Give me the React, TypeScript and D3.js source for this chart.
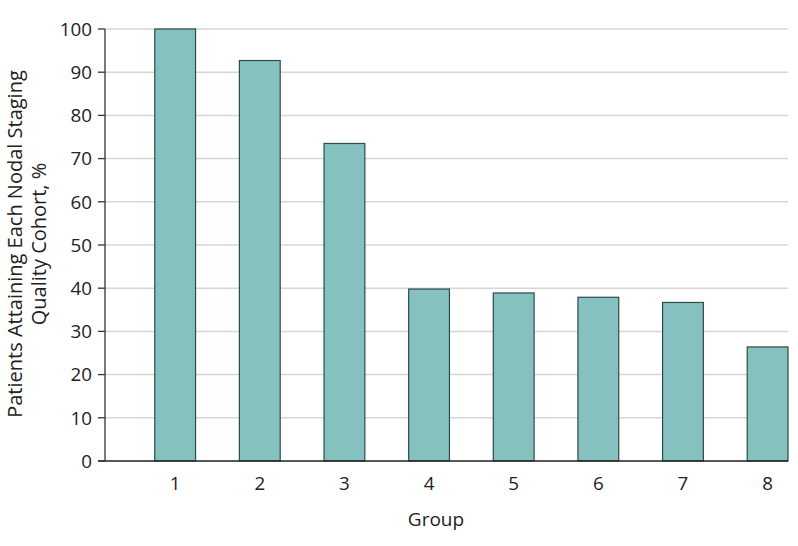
import React from "react";
import * as d3 from "d3";

const groups = ["1", "2", "3", "4", "5", "6", "7", "8"];
const values = [100, 92.7, 73.5, 39.8, 38.9, 37.9, 36.7, 26.4];
const yTicks = [0, 10, 20, 30, 40, 50, 60, 70, 80, 90, 100];
const yTitle = ["Patients Attaining Each Nodal Staging", "Quality Cohort, %"];
const xTitle = "Group";

const W = 798;
const H = 546;
const FONT = "'Open Sans', 'DejaVu Sans', sans-serif";

export default function App() {
  const x = d3
    .scaleBand<string>()
    .domain(groups)
    .range([105, 788])
    .paddingInner(0.518)
    .paddingOuter(0.294)
    .align(1);
  const y = d3.scaleLinear().domain([0, 100]).range([461, 29]);

  return (
    <svg
      width={W}
      height={H}
      style={{ position: "absolute", left: 0, top: 0, background: "#fff" }}
      fontFamily={FONT}
    >
      {yTicks.map((t) =>
        t === 0 ? null : (
          <line key={"g" + t} x1={105} x2={788} y1={y(t)} y2={y(t)} stroke="#d6d6d6" strokeWidth={1.5} />
        )
      )}
      {groups.map((g, i) => (
        <rect
          key={g}
          x={x(g)}
          y={y(values[i])}
          width={x.bandwidth()}
          height={y(0) - y(values[i])}
          fill="#84c1bf"
          stroke="#2e4a4a"
          strokeWidth={1.2}
        />
      ))}
      <line x1={105} x2={105} y1={29} y2={461} stroke="#333" strokeWidth={1.3} />
      <line x1={98} x2={788} y1={461} y2={461} stroke="#222" strokeWidth={1.5} />
      {yTicks.map((t) => (
        <g key={"t" + t}>
          <line x1={98} x2={105} y1={y(t)} y2={y(t)} stroke="#333" strokeWidth={1.3} />
          <text x={92} y={y(t)} dy="0.36em" textAnchor="end" fontSize={18.8} fill="#222">
            {t}
          </text>
        </g>
      ))}
      {groups.map((g) => (
        <text
          key={"x" + g}
          x={(x(g) as number) + x.bandwidth() / 2}
          y={490}
          textAnchor="middle"
          fontSize={18.8}
          fill="#222"
        >
          {g}
        </text>
      ))}
      <text x={436} y={526} textAnchor="middle" fontSize={19} fill="#222">
        {xTitle}
      </text>
      <g transform="translate(0,244) rotate(-90)">
        <text x={0} y={21.5} textAnchor="middle" fontSize={20} fill="#222">
          {yTitle[0]}
        </text>
        <text x={0} y={46} textAnchor="middle" fontSize={20} fill="#222">
          {yTitle[1]}
        </text>
      </g>
    </svg>
  );
}
